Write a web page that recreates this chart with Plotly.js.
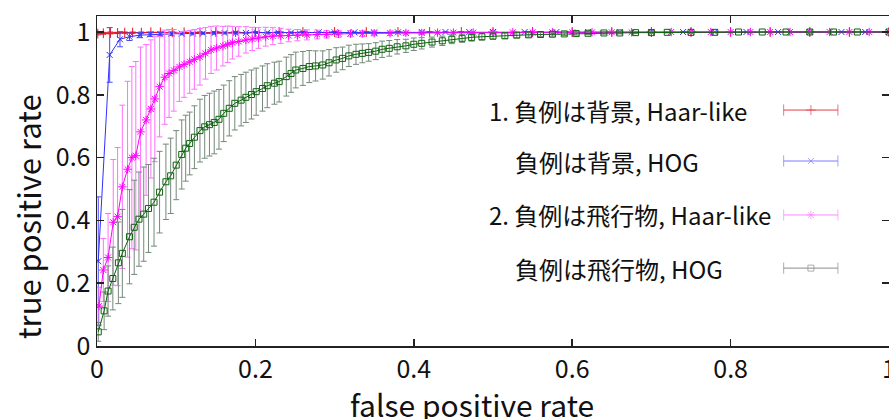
<!DOCTYPE html>
<html>
<head>
<meta charset="utf-8">
<script src="https://cdn.plot.ly/plotly-3.0.1.min.js"></script>
<style>html,body{margin:0;padding:0;overflow:hidden;background:#fff;width:889px;height:419px}#chart{width:896px;height:419px}</style>
</head>
<body>
<div id="chart"></div>
<script>
// ---- data ----
const seriesNames = ['1. 負例は背景, Haar-like', '負例は背景, HOG', '2. 負例は飛行物, Haar-like', '負例は飛行物, HOG'];
const xTitle = 'false positive rate';
const yTitle = 'true positive rate';
const tickVals = [0, 0.2, 0.4, 0.6, 0.8, 1];
const tickText = ['0', '0.2', '0.4', '0.6', '0.8', '1'];

const redX   = [0.001, 0.008, 0.017, 0.026, 0.035, 0.045, 0.056, 0.068, 0.08, 0.095, 0.11, 0.13, 0.15, 0.175, 0.2, 0.23, 0.26, 0.3, 0.34, 0.38, 0.42, 0.46, 0.5, 0.55, 0.6, 0.65, 0.7, 0.75, 0.8, 0.85, 0.9, 0.95, 1.0];
const redY   = [0.995, 0.996, 0.997, 0.997, 0.998, 0.998, 0.998, 0.999, 0.999, 0.999, 0.999, 0.999, 1.0, 1.0, 1.0, 1.0, 1.0, 1.0, 1.0, 1.0, 1.0, 1.0, 1.0, 1.0, 1.0, 1.0, 1.0, 1.0, 1.0, 1.0, 1.0, 1.0, 1.0];
const redErr = [0.004, 0.003, 0.003, 0.002, 0.002, 0.002, 0.002, 0.001, 0.001, 0.001, 0.001, 0.001, 0.001, 0.001, 0.001, 0.0, 0.0, 0.0, 0.0, 0.0, 0.0, 0.0, 0.0, 0.0, 0.0, 0.0, 0.0, 0.0, 0.0, 0.0, 0.0, 0.0, 0.0];

const blueX   = [0.0016, 0.016, 0.029, 0.041, 0.054, 0.067, 0.08, 0.094, 0.107, 0.121, 0.134, 0.148, 0.161, 0.175, 0.188, 0.202, 0.215, 0.229, 0.245, 0.26, 0.28, 0.3, 0.325, 0.35, 0.38, 0.41, 0.44, 0.47, 0.5, 0.54, 0.58, 0.62, 0.66, 0.7, 0.74, 0.78, 0.82, 0.86, 0.9, 0.94, 0.97, 1.0];
const blueY   = [0.27, 0.927, 0.977, 0.985, 0.99, 0.992, 0.993, 0.994, 0.995, 0.995, 0.996, 0.996, 0.997, 0.997, 0.997, 0.998, 0.998, 0.998, 0.998, 0.999, 0.999, 0.999, 0.999, 0.999, 0.999, 1.0, 1.0, 1.0, 1.0, 1.0, 1.0, 1.0, 1.0, 1.0, 1.0, 1.0, 1.0, 1.0, 1.0, 1.0, 1.0, 1.0];
const blueErr = [0.205, 0.087, 0.024, 0.012, 0.008, 0.006, 0.005, 0.005, 0.004, 0.004, 0.003, 0.003, 0.003, 0.003, 0.002, 0.002, 0.002, 0.002, 0.002, 0.001, 0.001, 0.001, 0.001, 0.001, 0.001, 0.0, 0.0, 0.0, 0.0, 0.0, 0.0, 0.0, 0.0, 0.0, 0.0, 0.0, 0.0, 0.0, 0.0, 0.0, 0.0, 0.0];

const magX   = [0.0025, 0.008, 0.014, 0.0205, 0.026, 0.032, 0.0386, 0.044, 0.049, 0.055, 0.062, 0.068, 0.073, 0.079, 0.0855, 0.091, 0.097, 0.104, 0.11, 0.117, 0.123, 0.13, 0.137, 0.144, 0.151, 0.159, 0.165, 0.171, 0.179, 0.188, 0.196, 0.204, 0.213, 0.222, 0.232, 0.242, 0.253, 0.265, 0.278, 0.29, 0.305, 0.32, 0.335, 0.35, 0.37, 0.39, 0.41, 0.43, 0.45, 0.475, 0.5, 0.525, 0.55, 0.575, 0.6, 0.625, 0.65, 0.675, 0.7, 0.725, 0.75, 0.775, 0.8, 0.825, 0.85, 0.875, 0.9, 0.925, 0.95, 0.975, 1.0];
const magY   = [0.127, 0.242, 0.282, 0.394, 0.412, 0.507, 0.563, 0.6, 0.606, 0.682, 0.72, 0.755, 0.787, 0.826, 0.856, 0.868, 0.878, 0.889, 0.897, 0.905, 0.913, 0.921, 0.932, 0.943, 0.949, 0.955, 0.961, 0.966, 0.97, 0.975, 0.978, 0.981, 0.985, 0.987, 0.988, 0.989, 0.99, 0.991, 0.992, 0.993, 0.994, 0.995, 0.995, 0.996, 0.996, 0.997, 0.997, 0.998, 0.998, 0.998, 0.998, 0.999, 0.999, 0.999, 0.999, 0.999, 0.999, 0.999, 0.999, 1.0, 1.0, 1.0, 1.0, 1.0, 1.0, 1.0, 1.0, 1.0, 1.0, 1.0, 1.0];
const magErr = [0.06, 0.1, 0.14, 0.2, 0.22, 0.26, 0.28, 0.29, 0.3, 0.27, 0.24, 0.22, 0.2, 0.16, 0.15, 0.14, 0.13, 0.11, 0.105, 0.1, 0.095, 0.09, 0.082, 0.075, 0.07, 0.063, 0.058, 0.052, 0.047, 0.042, 0.037, 0.033, 0.03, 0.027, 0.024, 0.02, 0.018, 0.016, 0.014, 0.012, 0.011, 0.01, 0.009, 0.008, 0.007, 0.006, 0.005, 0.004, 0.004, 0.003, 0.003, 0.003, 0.003, 0.002, 0.002, 0.002, 0.002, 0.002, 0.002, 0.001, 0.001, 0.001, 0.001, 0.001, 0.001, 0.001, 0.001, 0.001, 0.001, 0.001, 0.001];

const grnX   = [0.0016, 0.009, 0.014, 0.02, 0.027, 0.032, 0.041, 0.047, 0.053, 0.059, 0.065, 0.072, 0.079, 0.087, 0.093, 0.1, 0.107, 0.112, 0.117, 0.123, 0.13, 0.136, 0.142, 0.148, 0.154, 0.16, 0.167, 0.174, 0.182, 0.188, 0.195, 0.201, 0.209, 0.215, 0.224, 0.23, 0.239, 0.245, 0.251, 0.26, 0.268, 0.276, 0.285, 0.293, 0.302, 0.31, 0.318, 0.327, 0.335, 0.343, 0.352, 0.36, 0.369, 0.379, 0.39, 0.4, 0.41, 0.423, 0.436, 0.448, 0.461, 0.473, 0.486, 0.5, 0.515, 0.53, 0.545, 0.56, 0.575, 0.59, 0.605, 0.62, 0.64, 0.66, 0.68, 0.7, 0.72, 0.75, 0.78, 0.81, 0.84, 0.87, 0.9, 0.93, 0.96, 1.0];
const grnY   = [0.045, 0.112, 0.175, 0.215, 0.265, 0.295, 0.348, 0.378, 0.404, 0.42, 0.438, 0.458, 0.49, 0.523, 0.542, 0.576, 0.61, 0.63, 0.645, 0.665, 0.686, 0.698, 0.705, 0.712, 0.722, 0.741, 0.757, 0.773, 0.783, 0.792, 0.801, 0.81, 0.82, 0.829, 0.837, 0.842, 0.858, 0.868, 0.879, 0.884, 0.89, 0.892, 0.895, 0.902, 0.911, 0.916, 0.924, 0.929, 0.932, 0.935, 0.939, 0.945, 0.948, 0.953, 0.956, 0.961, 0.964, 0.968, 0.972, 0.977, 0.98, 0.983, 0.985, 0.987, 0.988, 0.99, 0.991, 0.992, 0.993, 0.994, 0.995, 0.996, 0.997, 0.997, 0.998, 0.998, 0.999, 0.999, 0.999, 1.0, 1.0, 1.0, 1.0, 1.0, 1.0, 1.0];
const grnErr = [0.03, 0.06, 0.08, 0.1, 0.13, 0.14, 0.15, 0.15, 0.15, 0.15, 0.14, 0.14, 0.13, 0.12, 0.12, 0.11, 0.11, 0.105, 0.1, 0.1, 0.1, 0.1, 0.1, 0.1, 0.095, 0.09, 0.088, 0.085, 0.082, 0.08, 0.078, 0.075, 0.072, 0.07, 0.067, 0.065, 0.062, 0.06, 0.057, 0.054, 0.051, 0.048, 0.045, 0.042, 0.039, 0.036, 0.034, 0.032, 0.03, 0.028, 0.027, 0.026, 0.025, 0.023, 0.021, 0.02, 0.018, 0.016, 0.015, 0.014, 0.013, 0.012, 0.011, 0.01, 0.009, 0.008, 0.007, 0.006, 0.006, 0.005, 0.005, 0.004, 0.004, 0.003, 0.003, 0.002, 0.002, 0.002, 0.001, 0.001, 0.001, 0.001, 0.001, 0.001, 0.001, 0.0];

// ---- styles ----
const FONT = '"Noto Sans CJK JP", "Noto Sans", sans-serif';
const styles = [
  {line:'#e8141f', err:'#e8141f', sample:'#e0404a', symbol:'cross-thin-open', size:7},
  {line:'#3030ff', err:'#4a4aff', sample:'#7a7aff', symbol:'x-thin-open', size:6},
  {line:'#ff00ff', err:'#ff70ff', sample:'#ff88ff', symbol:'asterisk-open', size:7},
  {line:'#0d630d', err:'#74897a', sample:'#8c8c8c', symbol:'square-open', size:6}
];
const sets = [[redX, redY, redErr], [blueX, blueY, blueErr], [magX, magY, magErr], [grnX, grnY, grnErr]];

const traces = sets.map((s, i) => ({
  type:'scatter', mode:'lines+markers', x:s[0], y:s[1], name:seriesNames[i],
  line:{color:styles[i].line, width:1},
  marker:{symbol:styles[i].symbol, size:styles[i].size, color:styles[i].line, line:{width:1}},
  error_y:{type:'data', array:s[2], visible:true, color:styles[i].err, thickness:1, width:3},
  showlegend:false
}));

// ---- custom legend (text left, sample right) ----
const legendRowsY = [0.715, 0.5606, 0.397, 0.236];
const legendTextX = [0.493, 0.5247, 0.493, 0.5247];
const sampleX = [0.867, 0.9014, 0.9355];
const annotations = seriesNames.map((t, i) => ({
  xref:'paper', yref:'paper', x:legendTextX[i], y:legendRowsY[i], xanchor:'left', yanchor:'middle',
  text:t, showarrow:false, font:{family:FONT, size:24, color:'#111'}
}));
// axis titles placed like the reference (off-centre)
annotations.push({xref:'paper', yref:'paper', x:0.474, y:-0.175, xanchor:'center', yanchor:'middle',
  text:xTitle, showarrow:false, font:{family:FONT, size:30, color:'#111'}});
annotations.push({xref:'paper', yref:'paper', x:-0.087, y:0.391, xanchor:'center', yanchor:'middle', textangle:-90,
  text:yTitle, showarrow:false, font:{family:FONT, size:31, color:'#111'}});

styles.forEach((st, i) => {
  traces.push({
    type:'scatter', mode:'lines+markers', xaxis:'x2', yaxis:'y2',
    x:sampleX, y:[legendRowsY[i], legendRowsY[i], legendRowsY[i]],
    line:{color:st.sample, width:1},
    marker:{symbol:['line-ns-open', st.symbol, 'line-ns-open'], size:[8, st.size, 8], color:st.sample, line:{width:1}},
    showlegend:false, hoverinfo:'skip'
  });
});

const layout = {
  width:896, height:419,
  margin:{l:97, r:7, t:16, b:73},
  paper_bgcolor:'#fff', plot_bgcolor:'#fff',
  font:{family:FONT, color:'#111'},
  showlegend:false,
  xaxis:{
    range:[0, 1], tickvals:tickVals, ticktext:tickText,
    ticks:'inside', ticklen:7, tickwidth:1.5, tickcolor:'#222',
    showline:true, linecolor:'#222', linewidth:1.5, mirror:'ticks',
    showgrid:false, zeroline:false, tickfont:{family:FONT, size:25, color:'#111'}
  },
  yaxis:{
    range:[0, 1.051], tickvals:tickVals, ticktext:tickText,
    ticks:'inside', ticklen:7, tickwidth:1.5, tickcolor:'#222',
    showline:true, linecolor:'#222', linewidth:1.5, mirror:'ticks',
    showgrid:false, zeroline:false, tickfont:{family:FONT, size:25, color:'#111'}
  },
  xaxis2:{overlaying:'x', range:[0, 1], visible:false, fixedrange:true},
  yaxis2:{overlaying:'y', range:[0, 1], visible:false, fixedrange:true},
  annotations:annotations
};

Plotly.newPlot('chart', traces, layout, {displayModeBar:false, staticPlot:true});
</script>
</body>
</html>
